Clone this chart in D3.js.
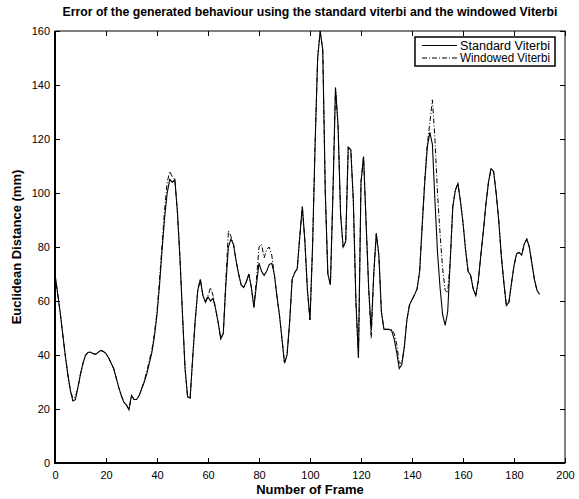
<!DOCTYPE html>
<html lang="en">
<head>
<meta charset="utf-8" />
<title>Error of the generated behaviour</title>
<script src="https://cdn.jsdelivr.net/npm/d3@7"></script>
<style>
body { margin: 0; background: #fff; }
svg text { font-family: "Liberation Sans", Arial, sans-serif; fill: #000; }
</style>
</head>
<body>
<script>
// values, one per frame (0..190)
var standard = [
  70, 63, 56, 48, 40, 33, 27, 23, 23.5, 28,
  33, 37, 40, 41, 41, 40.5, 40.3, 41, 41.7, 41.3,
  40.5, 39, 37, 35, 31.5, 28, 25, 22.5, 21.5, 19.7,
  25, 23.5, 23.5, 25, 27.5, 30, 33, 37, 41, 47,
  55, 66, 79, 91, 100, 105, 104, 105, 93, 76,
  55, 35, 24.5, 24, 39, 53, 64, 68, 62, 59.5,
  61.5, 60, 61, 57, 52, 46, 48, 66, 80, 83,
  81, 75, 70, 66, 65, 67, 70, 65, 57.5, 66,
  74, 71, 69.5, 71, 73.5, 74, 70, 62, 55, 46,
  37, 40, 52, 68, 70.5, 72, 84, 95, 82, 64,
  53, 80, 118, 150, 160, 153, 100, 70, 66, 100,
  139, 125, 92, 80, 82, 117, 116, 97, 60, 39,
  104, 113.5, 89, 65, 49, 70, 85, 77, 56, 49.5,
  49.5, 49.5, 49, 46, 41, 35, 36.5, 43, 53, 58.5,
  60.5, 62.3, 64.5, 71, 88, 104, 117, 122.5, 118, 97,
  78, 65, 55, 51, 56, 75, 95, 101, 103.5, 97,
  89, 79, 71, 69.5, 64.5, 62, 67.5, 77, 86, 96,
  104, 109, 108, 100, 90, 77, 67, 58.3, 59.5, 66.5,
  73, 77.5, 78, 77, 81, 83, 80, 74, 68, 64,
  62.5
];

var windowed = [
  70, 63, 56, 48, 40, 33, 27, 24, 24.5, 28,
  33, 37, 40, 41, 41, 40.5, 40.3, 41, 41.7, 41.3,
  40.5, 39, 37, 35, 31.5, 28, 25, 22.5, 21.5, 20,
  25, 23.5, 23.5, 25, 27.5, 30.5, 34, 38, 42, 48,
  56, 68, 81, 94, 104, 108, 106, 105, 93, 76,
  55, 35, 24.5, 24, 39, 53, 64, 68, 62, 60,
  62, 65, 62, 57, 52, 46, 48, 68, 86, 84,
  81, 75, 70, 66, 65, 67, 70, 65, 58, 68,
  80, 81, 76, 79, 80, 77, 70, 62, 55, 46,
  37, 40, 52, 68, 70.5, 72, 84, 95, 82, 64,
  53, 80, 118, 150, 160, 153, 100, 70, 66, 100,
  139, 125, 92, 80, 82, 117, 116, 97, 60, 39,
  104, 113.5, 89, 65, 46, 70, 85, 77, 56, 49.5,
  49.5, 49.5, 49.5, 48, 44, 37, 37, 43, 53, 58.5,
  60.5, 62.3, 64.5, 71, 88, 105, 118, 126, 134.5, 120,
  100, 85, 72, 64, 63, 75, 95, 101, 103.5, 97,
  89, 79, 71, 69.5, 64.5, 62, 67.5, 77, 86, 96,
  104, 109, 108, 100, 90, 77, 67, 58.3, 59.5, 66.5,
  73, 77.5, 78, 77, 81, 83, 80, 74, 68, 64,
  62.5
];

var xTicks = [0, 20, 40, 60, 80, 100, 120, 140, 160, 180, 200];
var yTicks = [0, 20, 40, 60, 80, 100, 120, 140, 160];
var seriesNames = ["Standard Viterbi", "Windowed Viterbi"];
var titleText = "Error of the generated behaviour using the standard viterbi and the windowed Viterbi";

var w = 579, h = 499;
var pad = { left: 55, right: 14, top: 31, bottom: 36 };

var svg = d3.select("body").append("svg")
  .attr("width", w)
  .attr("height", h);

var x = d3.scaleLinear().domain([0, 200]).range([pad.left, w - pad.right]);
var y = d3.scaleLinear().domain([0, 160]).range([h - pad.bottom, pad.top]);

// ticks point inward, matlab style
var tickLen = 5;
svg.append("g")
  .attr("transform", "translate(0," + (h - pad.bottom) + ")")
  .call(d3.axisBottom(x).tickValues(xTicks).tickSizeInner(-tickLen).tickSizeOuter(0).tickPadding(6))
  .call(function(g) {
    g.select(".domain").remove();
    g.selectAll("text").attr("font-size", "11px").attr("dy", "0.9em");
  });
svg.append("g")
  .attr("transform", "translate(" + pad.left + ",0)")
  .call(d3.axisLeft(y).tickValues(yTicks).tickSizeInner(-tickLen).tickSizeOuter(0).tickPadding(5))
  .call(function(g) {
    g.select(".domain").remove();
    g.selectAll("text").attr("font-size", "11px");
  });
svg.append("g")
  .attr("transform", "translate(0," + pad.top + ")")
  .call(d3.axisTop(x).tickValues(xTicks).tickSizeInner(-tickLen).tickSizeOuter(0).tickFormat(""))
  .call(function(g) { g.select(".domain").remove(); });
svg.append("g")
  .attr("transform", "translate(" + (w - pad.right) + ",0)")
  .call(d3.axisRight(y).tickValues(yTicks).tickSizeInner(-tickLen).tickSizeOuter(0).tickFormat(""))
  .call(function(g) { g.select(".domain").remove(); });

// box
svg.append("rect")
  .attr("x", pad.left)
  .attr("y", pad.top)
  .attr("width", w - pad.left - pad.right)
  .attr("height", h - pad.top - pad.bottom)
  .attr("fill", "none")
  .attr("stroke", "#000")
  .attr("stroke-width", 1);
svg.append("path")
  .attr("d", "M" + pad.left + "," + pad.top + "V" + (h - pad.bottom) + "H" + (w - pad.right))
  .attr("fill", "none")
  .attr("stroke", "#000")
  .attr("stroke-width", 2);

var line = d3.line()
  .x(function(d, i) { return x(i); })
  .y(function(d) { return y(d); });

svg.append("path")
  .datum(windowed)
  .attr("d", line)
  .attr("fill", "none")
  .attr("stroke", "#000")
  .attr("stroke-width", 1)
  .attr("stroke-dasharray", "5,2,1,2");
svg.append("path")
  .datum(standard)
  .attr("d", line)
  .attr("fill", "none")
  .attr("stroke", "#000")
  .attr("stroke-width", 1.1);

// legend
var lg = svg.append("g").attr("transform", "translate(415,37)");
lg.append("rect")
  .attr("width", 140).attr("height", 29)
  .attr("fill", "#fff").attr("stroke", "#000").attr("stroke-width", 1.5);
lg.selectAll("line.key")
  .data(seriesNames)
  .enter().append("line")
  .attr("x1", 7).attr("x2", 42)
  .attr("y1", function(d, i) { return 8.5 + i * 12.5; })
  .attr("y2", function(d, i) { return 8.5 + i * 12.5; })
  .attr("stroke", "#000")
  .attr("stroke-dasharray", function(d, i) { return i ? "5,2,1,2" : null; });
lg.selectAll("text")
  .data(seriesNames)
  .enter().append("text")
  .attr("x", 45)
  .attr("y", function(d, i) { return 12.5 + i * 12.5; })
  .attr("font-size", "12px")
  .attr("textLength", 90)
  .attr("lengthAdjust", "spacingAndGlyphs")
  .text(function(d) { return d; });

// titles
svg.append("text")
  .attr("x", 310).attr("y", 16)
  .attr("text-anchor", "middle")
  .attr("font-size", "12px")
  .attr("font-weight", "bold")
  .attr("textLength", 495)
  .attr("lengthAdjust", "spacingAndGlyphs")
  .text(titleText);
svg.append("text")
  .attr("x", (pad.left + w - pad.right) / 2).attr("y", 494)
  .attr("text-anchor", "middle")
  .attr("font-size", "13px")
  .attr("font-weight", "bold")
  .text("Number of Frame");
svg.append("text")
  .attr("transform", "translate(21," + ((pad.top + h - pad.bottom) / 2) + ") rotate(-90)")
  .attr("text-anchor", "middle")
  .attr("font-size", "13px")
  .attr("font-weight", "bold")
  .text("Euclidean Distance (mm)");
</script>
</body>
</html>
